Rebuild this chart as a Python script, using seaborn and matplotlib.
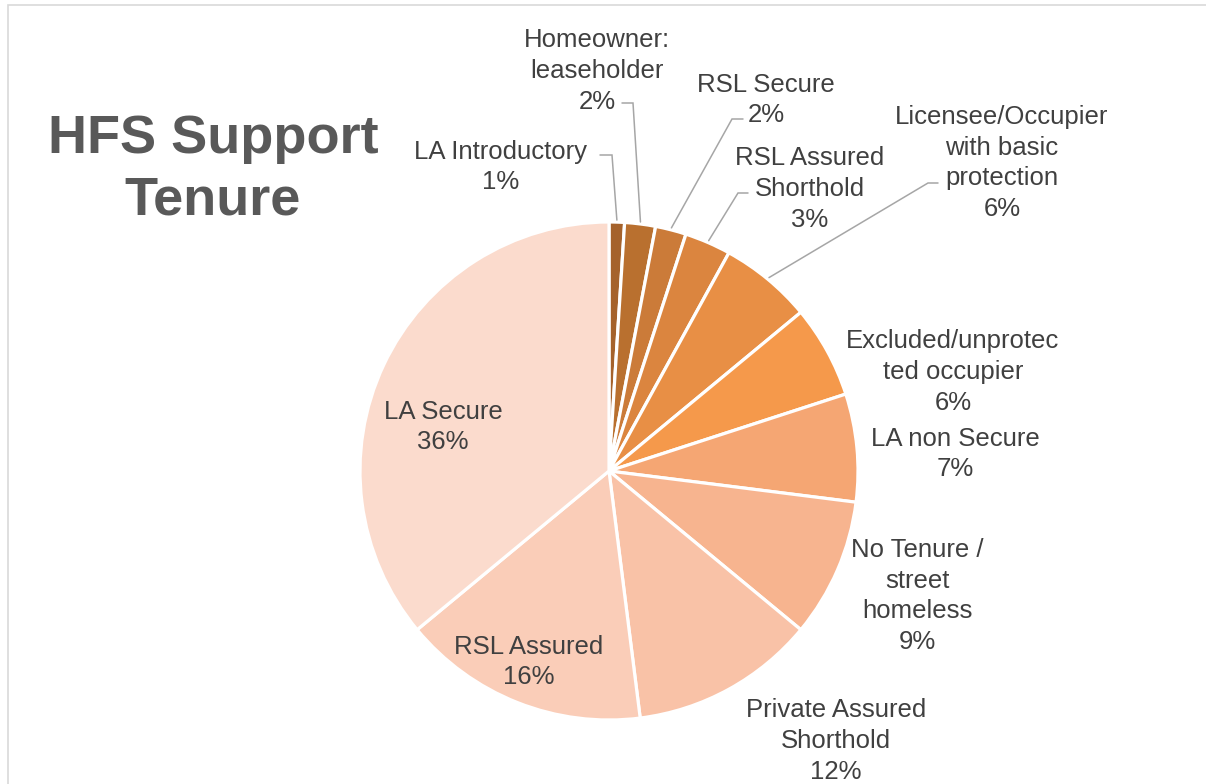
import matplotlib
matplotlib.use("Agg")
import matplotlib.pyplot as plt
from matplotlib.patches import Rectangle
import numpy as np
import seaborn as sns

# Tenure categories, clockwise from 12 o'clock
categories = [
    "LA Introductory",
    "Homeowner:\nleaseholder",
    "RSL Secure",
    "RSL Assured\nShorthold",
    "Licensee/Occupier\nwith basic\nprotection",
    "Excluded/unprotec\nted occupier",
    "LA non Secure",
    "No Tenure /\nstreet\nhomeless",
    "Private Assured\nShorthold",
    "RSL Assured",
    "LA Secure",
]
shares = [1, 2, 2, 3, 6, 6, 7, 9, 12, 16, 36]

slice_colors = [
    "#A5622B", "#B9702F", "#CB7B39", "#DB853F", "#E88F45", "#F5994B",
    "#F5A673", "#F7B48F", "#F9C2A7", "#FACDB8", "#FBDBCD",
]

title_text = "HFS Support\nTenure"

# Layout (figure pixels, origin top-left)
W, H = 1206, 784
pie_cx, pie_cy, pie_r = 609, 471, 249
label_xy = [
    (501, 167), (597, 71), (766, 100), (810, 189), (1002, 163),
    (953, 372), (955, 454), (917, 596), (836, 741), (529, 662), (443, 427),
]
# leader lines: (start x, elbow x, y) for labels outside the pie
leaders = {
    0: (600, 612, 155),
    1: (622, 633, 103),
    2: (743, 732, 119),
    3: (748, 738, 193),
    4: (938, 928, 183),
}

sns.set_theme(style="white")
plt.rcParams["font.family"] = ["Liberation Sans", "DejaVu Sans"]

palette = sns.color_palette(slice_colors)

fig = plt.figure(figsize=(W / 100, H / 100), dpi=100)
ax = fig.add_axes([0, 0, 1, 1])


def Y(y):
    return H - y


wedges, _ = ax.pie(
    shares,
    colors=palette,
    startangle=90,
    counterclock=False,
    center=(pie_cx, Y(pie_cy)),
    radius=pie_r,
    wedgeprops=dict(edgecolor="white", linewidth=2.3),
)

text_color = "#404040"
for i, (name, v) in enumerate(zip(categories, shares)):
    lx, ly = label_xy[i]
    ax.text(lx, Y(ly), f"{name}\n{v}%", ha="center", va="center",
            multialignment="center", fontsize=18.5, color=text_color,
            linespacing=1.36)

for i, (x0, x1, y) in leaders.items():
    w = wedges[i]
    mid = np.deg2rad((w.theta1 + w.theta2) / 2)
    ex = pie_cx + (pie_r + 2) * np.cos(mid)
    ey = Y(pie_cy) + (pie_r + 2) * np.sin(mid)
    ax.plot([x0, x1, ex], [Y(y), Y(y), ey], color="#A6A6A6", lw=1.1,
            solid_joinstyle="miter")

ax.text(213, Y(170), title_text, ha="center", va="center", fontsize=39,
        fontweight="bold", color="#595959", linespacing=1.3)

# chart area border
ax.add_patch(Rectangle((8, Y(900)), 2000, 895, fill=False,
                       edgecolor="#D9D9D9", lw=1.2))

ax.set_xlim(0, W)
ax.set_ylim(0, H)
ax.set_aspect("auto")
ax.axis("off")

fig.savefig("out.png", dpi=100, facecolor="white")
